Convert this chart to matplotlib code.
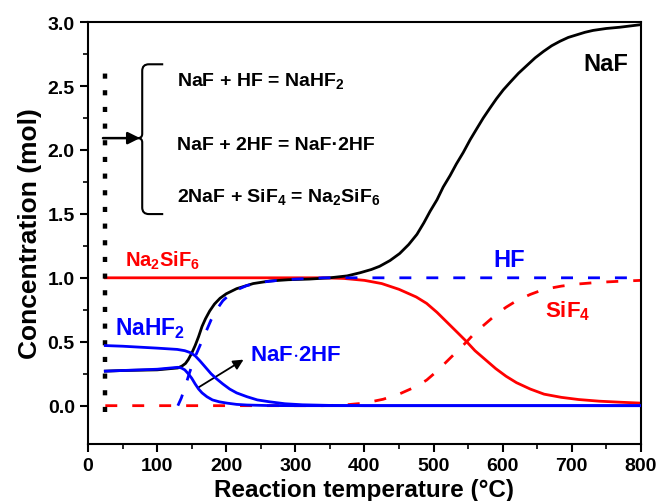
import matplotlib
matplotlib.use("Agg")
import matplotlib.pyplot as plt
from matplotlib.path import Path
from matplotlib.patches import PathPatch

plt.rcParams['font.family'] = ['Liberation Sans', 'DejaVu Sans']
plt.rcParams['font.weight'] = 'bold'
plt.rcParams['mathtext.fontset'] = 'custom'
plt.rcParams['mathtext.rm'] = 'Liberation Sans:bold'
plt.rcParams['mathtext.it'] = 'Liberation Sans:bold'
plt.rcParams['mathtext.bf'] = 'Liberation Sans:bold'
plt.rcParams['mathtext.default'] = 'rm'

# ---- data (temperature in °C, concentration in mol) ----
naf_T = [25, 50, 100, 130, 136, 141, 145, 150, 155, 160, 165, 170, 176, 183, 191, 200, 215, 239, 263, 290, 320, 350,
         375, 394, 410, 422, 437, 451, 464, 476, 486, 495, 505, 514, 524, 533, 543, 553, 563, 572, 582, 591, 601, 611,
         623, 635, 647, 659, 671, 683, 695, 707, 719, 731, 750, 770, 785, 800]
naf_y = [0.27, 0.275, 0.28, 0.295, 0.31, 0.33, 0.36, 0.41, 0.47, 0.54, 0.62, 0.68, 0.74, 0.795, 0.84, 0.875, 0.915, 0.955, 0.975,
         0.985, 0.99, 1.0, 1.015, 1.04, 1.065, 1.09, 1.135, 1.19, 1.26, 1.34, 1.43, 1.52, 1.61, 1.71, 1.80, 1.89, 1.98, 2.08,
         2.17, 2.25, 2.33, 2.40, 2.47, 2.53, 2.60, 2.66, 2.72, 2.77, 2.815, 2.85, 2.88, 2.90, 2.92, 2.935, 2.95, 2.96, 2.97, 2.98]

na2sif6_T = [25, 100, 200, 300, 340, 370, 400, 425, 450, 475, 490, 505, 520, 535, 548, 560, 575, 590, 605, 620,
             640, 660, 685, 710, 740, 770, 800]
na2sif6_y = [1.0, 1.0, 1.0, 1.0, 1.0, 0.995, 0.98, 0.955, 0.91, 0.85, 0.80, 0.73, 0.65, 0.57, 0.50, 0.43, 0.36, 0.29, 0.23, 0.18,
             0.13, 0.09, 0.065, 0.048, 0.035, 0.027, 0.02]

sif4_T = [25, 100, 200, 300, 340, 370, 400, 427, 450, 475, 490, 505, 520, 535, 548, 560, 575, 590, 605, 620,
          640, 660, 685, 710, 740, 770, 800]
sif4_y = [0.0, 0.0, 0.0, 0.0, 0.0, 0.005, 0.02, 0.05, 0.09, 0.15, 0.20, 0.27, 0.35, 0.43, 0.50, 0.57, 0.64, 0.71, 0.77, 0.82,
          0.87, 0.91, 0.935, 0.952, 0.965, 0.973, 0.98]

hf_T = [130, 135, 140, 147, 154, 162, 170, 178, 186, 195, 205, 215, 230, 250, 275, 300, 340, 400, 500, 600, 700, 800]
hf_y = [0.0, 0.06, 0.14, 0.26, 0.37, 0.47, 0.57, 0.67, 0.75, 0.82, 0.87, 0.905, 0.94, 0.965, 0.98, 0.99, 1.0, 1.0, 1.0, 1.0, 1.0, 1.0]

nahf2_T = [25, 50, 100, 129, 140, 148, 155, 162, 170, 178, 186, 195, 205, 215, 230, 245, 263, 285, 310, 350, 400, 500, 600, 700, 800]
nahf2_y = [0.47, 0.465, 0.45, 0.44, 0.43, 0.415, 0.39, 0.35, 0.30, 0.25, 0.21, 0.17, 0.13, 0.10, 0.07, 0.045, 0.03, 0.015, 0.007, 0.002, 0.0, 0.0, 0.0, 0.0, 0.0]

naf2hf_T = [25, 50, 100, 130, 135, 140, 145, 150, 155, 160, 165, 172, 180, 190, 201, 215, 230, 260, 300, 400, 600, 800]
naf2hf_y = [0.27, 0.275, 0.285, 0.30, 0.295, 0.28, 0.25, 0.215, 0.17, 0.13, 0.10, 0.07, 0.045, 0.03, 0.02, 0.01, 0.005, 0.001, 0.0, 0.0, 0.0, 0.0]

start_T = 25
start_span = [-0.05, 2.6]

equations = [r'NaF + HF = NaHF$_2$',
             'NaF + 2HF = NaF\u00b72HF',
             r'2NaF + SiF$_4$ = Na$_2$SiF$_6$']
equation_y = [2.506, 2.011, 1.603]

fig = plt.figure(figsize=(6.62, 5.02), dpi=100)
ax = fig.add_axes([0.133, 0.1135, 0.835, 0.8405])

lw = 2.0
dash = (0, (4.3, 5.4))
ax.plot(na2sif6_T, na2sif6_y, color='#ff0000', lw=lw, zorder=2)
ax.plot(sif4_T, sif4_y, color='#ff0000', lw=lw, linestyle=dash, zorder=2)
ax.plot(naf_T, naf_y, color='black', lw=lw, zorder=3)
ax.plot(nahf2_T, nahf2_y, color='#0000ff', lw=lw, zorder=4)
ax.plot(naf2hf_T, naf2hf_y, color='#0000ff', lw=lw, zorder=4)
ax.plot(hf_T, hf_y, color='#0000ff', lw=lw, linestyle=dash, zorder=5)

# dotted vertical line at start temperature
ax.plot([start_T, start_T], start_span, color='black', lw=3.2,
        linestyle=(0, (1.15, 2.6)), dash_capstyle='butt', zorder=3)

ax.set_xlim(0, 800)
ax.set_ylim(-0.3, 3.0)
ax.set_xticks(range(0, 801, 100))
ax.set_xticks(range(0, 801, 50), minor=True)
ax.set_yticks([0.0, 0.5, 1.0, 1.5, 2.0, 2.5, 3.0])
ax.set_yticks([0.25, 0.75, 1.25, 1.75, 2.25, 2.75], minor=True)
ax.set_yticklabels([f'{v:.1f}' for v in [0.0, 0.5, 1.0, 1.5, 2.0, 2.5, 3.0]])
ax.tick_params(axis='both', which='major', direction='out', length=6, width=1.5, labelsize=14)
ax.tick_params(axis='both', which='minor', direction='out', length=3.5, width=1.2)
for lab in ax.get_xticklabels() + ax.get_yticklabels():
    lab.set_fontweight('bold')
for s in ax.spines.values():
    s.set_linewidth(1.5)

ax.set_xlabel('Reaction temperature (\u00b0C)', fontsize=17.5, fontweight='bold', labelpad=3)
ax.set_ylabel('Concentration (mol)', fontsize=19, fontweight='bold', labelpad=4)

# curve labels
ax.text(749, 2.624, 'NaF', color='black', fontsize=17, fontweight='bold', ha='center', va='baseline')
ax.text(53, 1.094, r'Na$_2$SiF$_6$', color='#ff0000', fontsize=14.5, fontweight='bold', ha='left', va='baseline')
ax.text(610, 1.094, 'HF', color='#0000ff', fontsize=17, fontweight='bold', ha='center', va='baseline')
ax.text(661, 0.697, r'SiF$_4$', color='#ff0000', fontsize=16, fontweight='bold', ha='left', va='baseline')
ax.text(39, 0.558, r'NaHF$_2$', color='#0000ff', fontsize=16.5, fontweight='bold', ha='left', va='baseline')
ax.text(234, 0.361, r'NaF$\cdot$2HF', color='#0000ff', fontsize=16, fontweight='bold', ha='left', va='baseline')

ax.annotate('', xy=(225, 0.36), xytext=(159, 0.14),
            arrowprops=dict(arrowstyle='-|>', color='black', lw=1.3, mutation_scale=15,
                            shrinkA=0, shrinkB=0))

# reaction equations
for eq, yv in zip(equations, equation_y):
    ax.text(129, yv, eq, color='black', fontsize=14, fontweight='bold', ha='left', va='baseline')

# brace (axes fraction coordinates)
bx, bx2, ytop, ymid, ybot, cusp = 0.098, 0.136, 0.900, 0.725, 0.545, 0.090
r = 0.012
verts = [(bx2, ytop), (bx + r, ytop), (bx, ytop), (bx, ytop - r * 1.3),
         (bx, ymid + 0.01), (bx, ymid), (cusp, ymid),
         (bx, ymid), (bx, ymid - 0.01),
         (bx, ybot + r * 1.3), (bx, ybot), (bx + r, ybot), (bx2, ybot)]
codes = [Path.MOVETO, Path.LINETO, Path.CURVE3, Path.CURVE3,
         Path.LINETO, Path.CURVE3, Path.CURVE3,
         Path.CURVE3, Path.CURVE3,
         Path.LINETO, Path.CURVE3, Path.CURVE3, Path.LINETO]
ax.add_patch(PathPatch(Path(verts, codes), transform=ax.transAxes, fill=False,
                       edgecolor='black', lw=1.5, zorder=6))
ax.annotate('', xy=(cusp + 0.004, ymid), xytext=(0.027, ymid), xycoords='axes fraction',
            textcoords='axes fraction',
            arrowprops=dict(arrowstyle='-|>', color='black', lw=1.8, mutation_scale=18,
                            shrinkA=0, shrinkB=0))

fig.savefig('out.png', dpi=100)
